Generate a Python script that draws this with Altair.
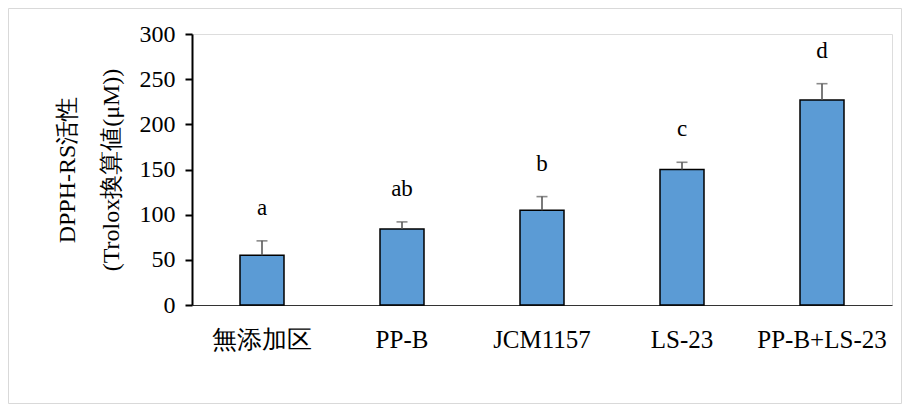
import altair as alt
import pandas as pd

categories = ["無添加区", "PP-B", "JCM1157", "LS-23", "PP-B+LS-23"]
values = [55, 84, 105, 150, 227]
errors = [16, 8, 15, 8, 18]
letters = ["a", "ab", "b", "c", "d"]

df = pd.DataFrame({"cat": categories, "val": values, "err": errors, "letter": letters})
df["top"] = df["val"] + df["err"]

FONT = "Liberation Serif"
W, H = 700, 271
PL, PT, PR, PB = 184, 26, 10, 99

x = alt.X("cat:N", sort=categories, title=None,
          scale=alt.Scale(paddingInner=0, paddingOuter=0),
          axis=alt.Axis(labelAngle=0, ticks=False, domainColor="#333333", domainWidth=1.2,
                        labelFont=FONT, labelFontSize=25, labelColor="black", labelPadding=22))
y_scale = alt.Scale(domain=[0, 300])

base = alt.Chart(df)

bars = base.mark_bar(size=44, fill="#5B9BD5", stroke="black", strokeWidth=1.5).encode(
    x=x,
    y=alt.Y("val:Q", scale=y_scale,
            title=["DPPH-RS活性", "(Trolox換算値(μM))"],
            axis=alt.Axis(values=[0, 50, 100, 150, 200, 250, 300], grid=False,
                          domainColor="black", domainWidth=2, tickColor="black", tickWidth=2,
                          tickSize=7, labelFont=FONT, labelFontSize=24, labelColor="black",
                          labelPadding=10, titleFont=FONT, titleFontSize=24, titleFontWeight="normal",
                          titleColor="black", titlePadding=16, titleLineHeight=44)),
)

err_rule = base.mark_rule(color="#595959", strokeWidth=1.6).encode(
    x=alt.X("cat:N", sort=categories), y=alt.Y("val:Q", scale=y_scale), y2="top:Q")
err_cap = base.mark_tick(color="#595959", thickness=1.6, size=11, orient="horizontal").encode(
    x=alt.X("cat:N", sort=categories), y=alt.Y("top:Q", scale=y_scale))

labels = base.mark_text(font=FONT, fontSize=23, color="black", baseline="middle", dy=-33).encode(
    x=alt.X("cat:N", sort=categories), y=alt.Y("top:Q", scale=y_scale), text="letter:N")

frame = alt.Chart(pd.DataFrame({"k": [0]})).mark_rect(
    fill=None, filled=False, stroke="#d9d9d9", strokeWidth=1).encode(
    x=alt.value(-PL + 0.5), x2=alt.value(W + PR - 0.5),
    y=alt.value(-PT + 0.5), y2=alt.value(H + PB - 0.5))

chart = alt.layer(frame, bars, err_rule, err_cap, labels).properties(
    width=W, height=H,
    autosize=alt.AutoSizeParams(type="none"),
    padding={"left": PL, "top": PT, "right": PR, "bottom": PB},
).configure_view(stroke=None).configure(background="white")

chart.save("out.html", embed_options={"renderer": "svg", "actions": False})
